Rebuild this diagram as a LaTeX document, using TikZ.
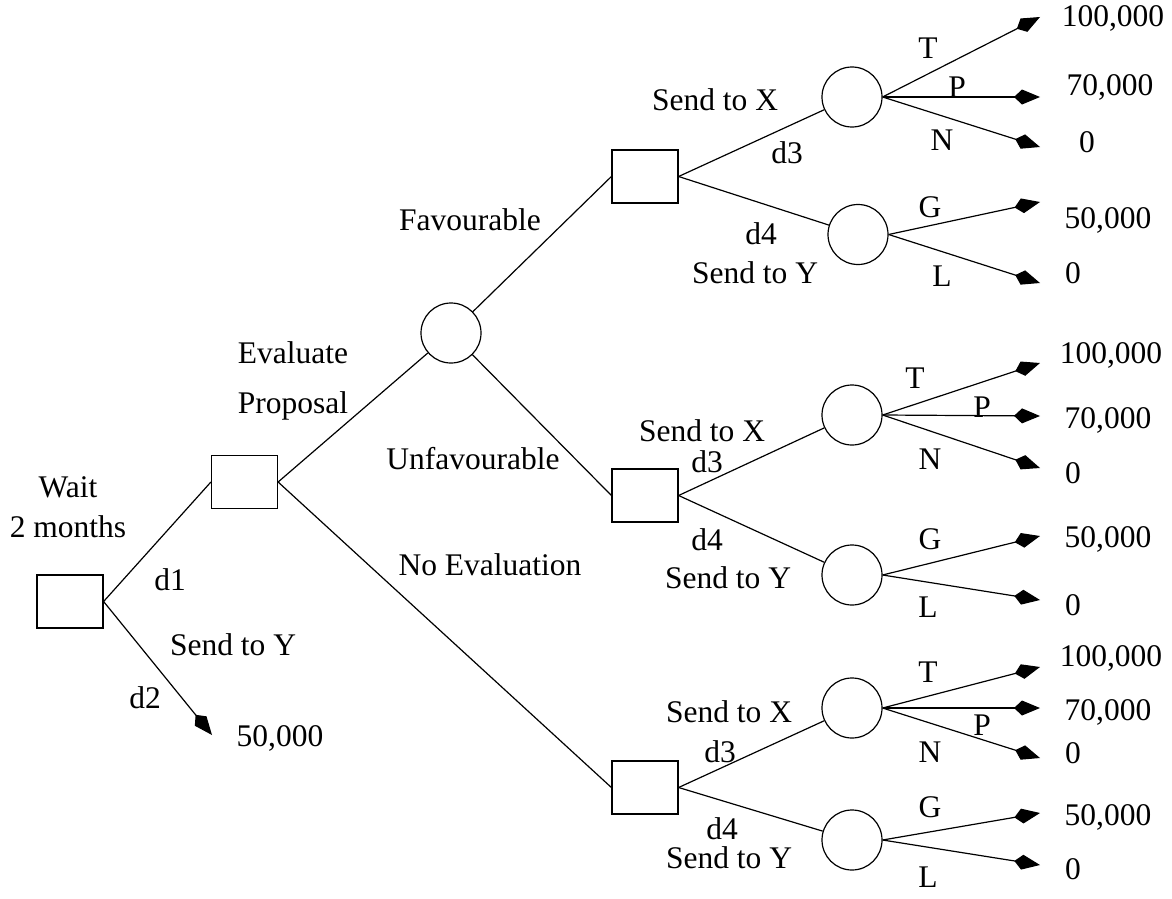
\documentclass[tikz,border=0pt]{standalone}
\usepackage{fontspec}
\setmainfont{Liberation Serif}
\usetikzlibrary{arrows.meta}
\begin{document}
\begin{tikzpicture}[x=1pt,y=-1pt,
  dec/.style={draw,line width=1.2pt,minimum width=66pt,minimum height=53pt,inner sep=0pt},
  chance/.style={draw,circle,line width=1.2pt,minimum size=60pt,inner sep=0pt},
  branch/.style={line width=1.2pt},
  pay/.style={branch,-{Kite[length=26pt,width=15pt,inset=8pt]}},
  lab/.style={font=\fontsize{31.5}{36}\selectfont,inner sep=0pt}]
\useasboundingbox (0,0) rectangle (1172,899);
% decision and chance nodes
\node[dec] (r) at (70,601.5) {};
\node[dec] (e) at (244.5,482) {};
\node[chance] (c0) at (451,333) {};
\node[dec] (sA) at (645,176.5) {};
\node[dec] (sB) at (645,495.5) {};
\node[dec] (sC) at (645,787.5) {};
\node[chance] (xA) at (852,97) {};
\node[chance] (yA) at (858,234.5) {};
\node[chance] (xB) at (852,415) {};
\node[chance] (yB) at (852,575) {};
\node[chance] (xC) at (852,708) {};
\node[chance] (yC) at (852,840) {};
% tips
\coordinate (t0) at (212,735);
\coordinate (tA1) at (1040,17);
\coordinate (tA2) at (1040,97);
\coordinate (tA3) at (1040,147);
\coordinate (tA4) at (1040,202);
\coordinate (tA5) at (1040,283);
\coordinate (tB1) at (1040,363);
\coordinate (tB2) at (1040,416);
\coordinate (tB3) at (1040,468);
\coordinate (tB4) at (1040,536);
\coordinate (tB5) at (1040,600);
\coordinate (tC1) at (1040,667);
\coordinate (tC2) at (1040,708);
\coordinate (tC3) at (1040,758);
\coordinate (tC4) at (1040,813);
\coordinate (tC5) at (1040,865);
% branches
\draw[branch] (r.east) -- (e.west);
\draw[pay] (r.east) -- (t0);
\draw[branch] (e.east) -- (c0);
\draw[branch] (e.east) -- (sC.west);
\draw[branch] (c0) -- (sA.west);
\draw[branch] (c0) -- (sB.west);
\draw[branch] (sA.east) -- (xA);
\draw[branch] (sA.east) -- (yA);
\draw[branch] (sB.east) -- (xB);
\draw[branch] (sB.east) -- (yB);
\draw[branch] (sC.east) -- (xC);
\draw[branch] (sC.east) -- (yC);
\draw[pay] (xA.east) -- (tA1);
\draw[pay] (xA.east) -- (tA2);
\draw[pay] (xA.east) -- (tA3);
\draw[pay] (yA.east) -- (tA4);
\draw[pay] (yA.east) -- (tA5);
\draw[pay] (xB.east) -- (tB1);
\draw[pay] (xB.east) -- (tB2);
\draw[pay] (xB.east) -- (tB3);
\draw[pay] (yB.east) -- (tB4);
\draw[pay] (yB.east) -- (tB5);
\draw[pay] (xC.east) -- (tC1);
\draw[pay] (xC.east) -- (tC2);
\draw[pay] (xC.east) -- (tC3);
\draw[pay] (yC.east) -- (tC4);
\draw[pay] (yC.east) -- (tC5);
% left labels
\node[lab] (l1) at (68,487) {Wait};
\node[lab] (l2) at (68,527) {2 months};
\node[lab] (l3) at (170,580) {d1};
\node[lab] (l4) at (233,645) {Send to Y};
\node[lab] (l5) at (145,698) {d2};
\node[lab] (l6) at (280,738) {50,000};
\node[lab] (l7) at (293,353) {Evaluate};
\node[lab] (l8) at (293,406) {Proposal};
\node[lab] (l9) at (470,220) {Favourable};
\node[lab] (l10) at (473,459) {Unfavourable};
\node[lab] (l11) at (490,565) {No Evaluation};
% top group
\node[lab] (a1) at (715,100) {Send to X};
\node[lab] (a2) at (787,153) {d3};
\node[lab] (a3) at (761,234) {d4};
\node[lab] (a4) at (755,273) {Send to Y};
\node[lab] (a5) at (928,48) {T};
\node[lab] (a6) at (957,87) {P};
\node[lab] (a7) at (942,140) {N};
\node[lab] (a8) at (930,207) {G};
\node[lab] (a9) at (942,276) {L};
\node[lab] (a10) at (1113,18) {100,000};
\node[lab] (a11) at (1110,87) {70,000};
\node[lab] (a12) at (1087,142) {0};
\node[lab] (a13) at (1108,220) {50,000};
\node[lab] (a14) at (1073,273) {0};
% middle group
\node[lab] (b1) at (702,431) {Send to X};
\node[lab] (b2) at (707,462) {d3};
\node[lab] (b3) at (707,540) {d4};
\node[lab] (b4) at (728,578) {Send to Y};
\node[lab] (b5) at (915,378) {T};
\node[lab] (b6) at (982,407) {P};
\node[lab] (b7) at (930,459) {N};
\node[lab] (b8) at (930,539) {G};
\node[lab] (b9) at (928,607) {L};
\node[lab] (b10) at (1111,355) {100,000};
\node[lab] (b11) at (1108,420) {70,000};
\node[lab] (b12) at (1073,473) {0};
\node[lab] (b13) at (1108,539) {50,000};
\node[lab] (b14) at (1073,605) {0};
% bottom group
\node[lab] (c1) at (729,712) {Send to X};
\node[lab] (c2) at (720,752) {d3};
\node[lab] (c3) at (722,829) {d4};
\node[lab] (c4) at (729,858) {Send to Y};
\node[lab] (c5) at (928,672) {T};
\node[lab] (c6) at (982,725) {P};
\node[lab] (c7) at (930,752) {N};
\node[lab] (c8) at (930,807) {G};
\node[lab] (c9) at (928,877) {L};
\node[lab] (c10) at (1111,658) {100,000};
\node[lab] (c11) at (1108,712) {70,000};
\node[lab] (c12) at (1073,753) {0};
\node[lab] (c13) at (1108,817) {50,000};
\node[lab] (c14) at (1073,869) {0};
\end{tikzpicture}
\end{document}
